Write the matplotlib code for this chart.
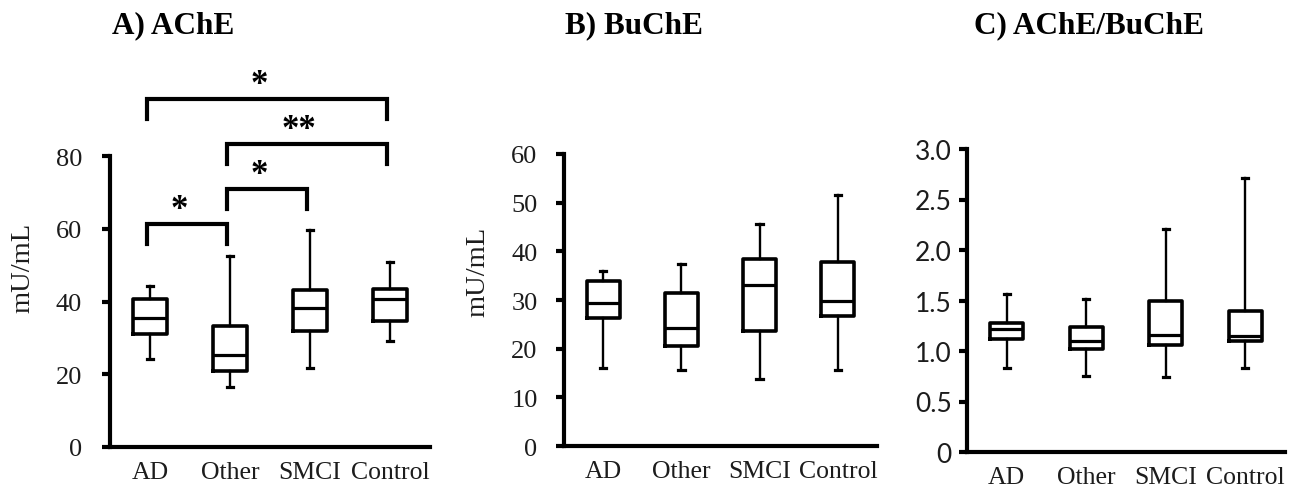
import matplotlib
matplotlib.use("Agg")
import matplotlib.pyplot as plt

# ---------------- data ----------------
groups = ["AD", "Other", "SMCI", "Control"]

ache_whislo = [24.3, 16.6, 21.6, 29.2]
ache_q1 = [31.0, 20.9, 31.9, 34.7]
ache_med = [35.6, 25.3, 38.3, 40.6]
ache_q3 = [40.6, 33.3, 43.2, 43.4]
ache_whishi = [44.3, 52.4, 59.6, 50.9]

buche_whislo = [16.1, 15.6, 13.7, 15.6]
buche_q1 = [26.4, 20.6, 23.7, 26.7]
buche_med = [29.4, 24.2, 33.1, 29.7]
buche_q3 = [34.0, 31.4, 38.5, 37.9]
buche_whishi = [36.0, 37.4, 45.6, 51.6]

ratio_whislo = [0.83, 0.75, 0.74, 0.83]
ratio_q1 = [1.12, 1.02, 1.06, 1.10]
ratio_med = [1.22, 1.10, 1.16, 1.15]
ratio_q3 = [1.28, 1.24, 1.50, 1.40]
ratio_whishi = [1.56, 1.51, 2.21, 2.71]

ache_ticks = [0, 20, 40, 60, 80]
buche_ticks = [0, 10, 20, 30, 40, 50, 60]
ratio_ticks = [0, 0.5, 1.0, 1.5, 2.0, 2.5, 3.0]
ratio_ticklabels = ["0", "0.5", "1.0", "1.5", "2.0", "2.5", "3.0"]

# significance comparisons in panel A
sig_pairs = [(0, 1), (1, 2), (1, 3), (0, 3)]
sig_labels = ["*", "*", "**", "*"]
sig_heights = [61.3, 70.9, 83.3, 95.7]

titles = ["A) AChE", "B) BuChE", "C) AChE/BuChE"]

# ---------------- styling ----------------
SERIF = "Liberation Serif"
TXT = "#1c1c1c"
W, H = 1305, 489
fig = plt.figure(figsize=(W / 100, H / 100), dpi=100)


def px_axes(l, r, t, b):
    return fig.add_axes([l / W, 1 - b / H, (r - l) / W, (b - t) / H])


axA = px_axes(110, 430, 157, 448)
axB = px_axes(564, 877, 155, 447)
axC = px_axes(967, 1285, 150, 453)


def make_stats(lo, q1, med, q3, hi):
    return [dict(whislo=a, q1=b, med=c, q3=d, whishi=e, fliers=[])
            for a, b, c, d, e in zip(lo, q1, med, q3, hi)]


def draw_panel(ax, stats, ticks, ylim, ticklabels=None, tickfont=SERIF, pad=14):
    pos = list(range(1, len(groups) + 1))
    ax.bxp(stats, positions=pos, widths=0.42, capwidths=0.08, showfliers=False,
           boxprops=dict(color="black", linewidth=2.6),
           medianprops=dict(color="black", linewidth=2.3),
           whiskerprops=dict(color="black", linewidth=1.7),
           capprops=dict(color="black", linewidth=2.3))
    ax.set_xlim(0.5, len(groups) + 0.5)
    ax.set_ylim(*ylim)
    ax.set_yticks(ticks)
    if ticklabels is not None:
        ax.set_yticklabels(ticklabels)
    ax.set_xticks(pos)
    ax.set_xticklabels(groups, fontfamily=SERIF, fontsize=18.5, color=TXT)
    for lab in ax.get_yticklabels():
        lab.set_fontfamily(tickfont)
        lab.set_fontsize(19)
        lab.set_color(TXT)
    ax.tick_params(axis="x", length=0, pad=10)
    ax.tick_params(axis="y", direction="out", length=6, width=3, pad=pad)
    for s in ("top", "right"):
        ax.spines[s].set_visible(False)
    for s in ("left", "bottom"):
        ax.spines[s].set_linewidth(3)
        ax.spines[s].set_capstyle("projecting")


draw_panel(axA, make_stats(ache_whislo, ache_q1, ache_med, ache_q3, ache_whishi),
           ache_ticks, (0, 80), pad=14)
draw_panel(axB, make_stats(buche_whislo, buche_q1, buche_med, buche_q3, buche_whishi),
           buche_ticks, (0, 60), pad=13)
draw_panel(axC, make_stats(ratio_whislo, ratio_q1, ratio_med, ratio_q3, ratio_whishi),
           ratio_ticks, (0, 3.0), ticklabels=ratio_ticklabels, tickfont="Lato", pad=5)

# y labels
axA.text(-0.272, 0.62, "mU/mL", transform=axA.transAxes, rotation=90,
         ha="center", va="center", fontfamily=SERIF, fontsize=20.5, color=TXT)
axB.text(-0.275, 0.60, "mU/mL", transform=axB.transAxes, rotation=90,
         ha="center", va="center", fontfamily=SERIF, fontsize=20.5, color=TXT)

# significance brackets (panel A)
leg = 5.5
for (i, j), lab, h in zip(sig_pairs, sig_labels, sig_heights):
    x1, x2 = i + 1 - 0.04, j + 1 - 0.04
    axA.plot([x1, x1, x2, x2], [h - leg, h, h, h - leg], color="black",
             linewidth=3, clip_on=False, solid_joinstyle="miter")
    axA.text((x1 + x2) / 2 - 0.1, h + 4.0, lab, ha="center", va="center",
             fontfamily=SERIF, fontsize=25, fontweight="bold", clip_on=False)

# titles
for x0, t in zip([112, 565, 974], titles):
    fig.text(x0 / W, 1 - 33 / H, t, fontfamily=SERIF, fontweight="bold",
             fontsize=22.5, ha="left", va="baseline")

fig.savefig("out.png", dpi=100, facecolor="white")
